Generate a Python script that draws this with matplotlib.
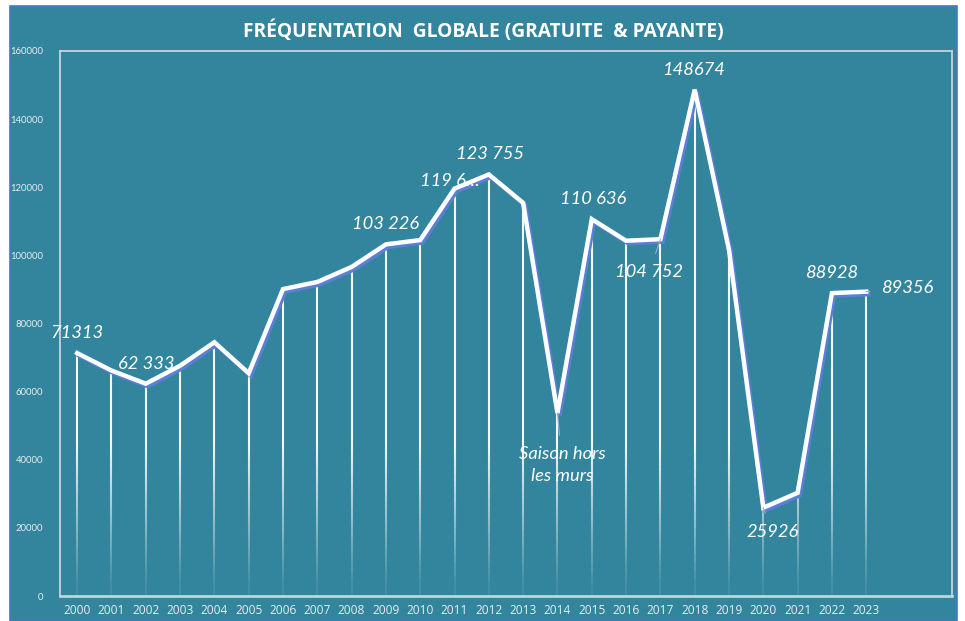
import numpy as np
import matplotlib
matplotlib.use("Agg")
import matplotlib.pyplot as plt
from matplotlib.collections import LineCollection
from matplotlib.patches import Rectangle
import matplotlib.patheffects as pe

years = [str(y) for y in range(2000, 2024)]
visitors = [71313, 66200, 62333, 67600, 74500, 65400, 90100, 92200, 96600, 103226,
            104500, 119600, 123755, 115400, 53700, 110636, 104300, 104752, 148674,
            101600, 25926, 30300, 88928, 89356]

# labelled points: (index, text, dx_px, dy_px, leader)
labels = [
    (0, "71313", 0, 20, False),
    (2, "62 333", 0, 20, False),
    (9, "103 226", 0, 20, False),
    (11, "119 6…", -5, 8, False),
    (12, "123 755", 1, 20, False),
    (15, "110 636", 1, 20, False),
    (17, "104 752", -11, -33, True),
    (18, "148674", -1, 20, False),
    (14, "Saison hors\nles murs", 5, -52, True),
    (20, "25926", 9, -24, True),
    (22, "88928", 0, 20, False),
    (23, "89356", 41, 4, True),
]

TEAL = "#32859C"
plt.rcParams['font.family'] = ['Lato', 'DejaVu Sans']

fig = plt.figure(figsize=(9.65, 6.21), dpi=100, facecolor="white")
bg = Rectangle((10 / 965, 0), 947 / 965, 615 / 621, transform=fig.transFigure,
               facecolor=TEAL, edgecolor="#4a78c0", linewidth=1.2, zorder=-10)
fig.patches.append(bg)
ax = fig.add_axes([60 / 965, 25 / 621, 892 / 965, 545 / 621])
ax.set_zorder(1)
ax.set_facecolor(TEAL)

x = np.arange(len(years))
y = np.array(visitors, dtype=float)

# drop lines with fade toward bottom
segs, cols = [], []
for xi, yi in zip(x, y):
    n = 60
    ys = np.linspace(0, yi, n + 1)
    for a, b in zip(ys[:-1], ys[1:]):
        segs.append([(xi, a), (xi, b)])
        al = np.clip(((a + b) / 2) / 45000.0, 0.08, 1.0) * 0.95
        cols.append((1, 1, 1, al))
ax.add_collection(LineCollection(segs, colors=cols, linewidths=1.5, zorder=2, capstyle='butt'))

ax.plot(x, y, color="white", lw=3.2, zorder=4, solid_joinstyle='miter',
        path_effects=[pe.SimpleLineShadow(offset=(1.5, -1.8), shadow_color="#5b7fd6", alpha=1.0),
                      pe.Normal()])

for i, txt, dx, dy, leader in labels:
    ax.annotate(txt, (x[i], y[i]), xytext=(dx * 0.72, dy * 0.72), textcoords="offset points",
                ha="center", va="center", color="white", style="italic", fontsize=13.2,
                linespacing=1.4, zorder=5,
                arrowprops=dict(arrowstyle="-", color="#8fb0d8", lw=0.8, shrinkA=6, shrinkB=0) if leader else None)

ax.set_xlim(-0.5, 25.5)
ax.set_ylim(0, 160000)
ax.set_xticks(x)
ax.set_xticklabels(years)
ax.set_yticks(np.arange(0, 160001, 20000))
ax.tick_params(axis='both', length=0, colors="#e8eef2")
ax.tick_params(axis='x', labelsize=8.6, pad=6)
ax.tick_params(axis='y', labelsize=6.8, pad=12)
for lab in ax.get_xticklabels():
    lab.set_fontfamily(['Open Sans', 'DejaVu Sans'])
for s in ax.spines.values():
    s.set_color("#c5d3da")
    s.set_linewidth(1.3)
ax.spines['bottom'].set_linewidth(2)

fig.text(483 / 965, 1 - 31 / 621, "FRÉQUENTATION  GLOBALE (GRATUITE  & PAYANTE)",
         ha="center", va="center", color="white", fontsize=13.8, fontweight="bold",
         family=['Open Sans', 'DejaVu Sans'])

fig.savefig("out.png", dpi=100, facecolor=fig.get_facecolor())
